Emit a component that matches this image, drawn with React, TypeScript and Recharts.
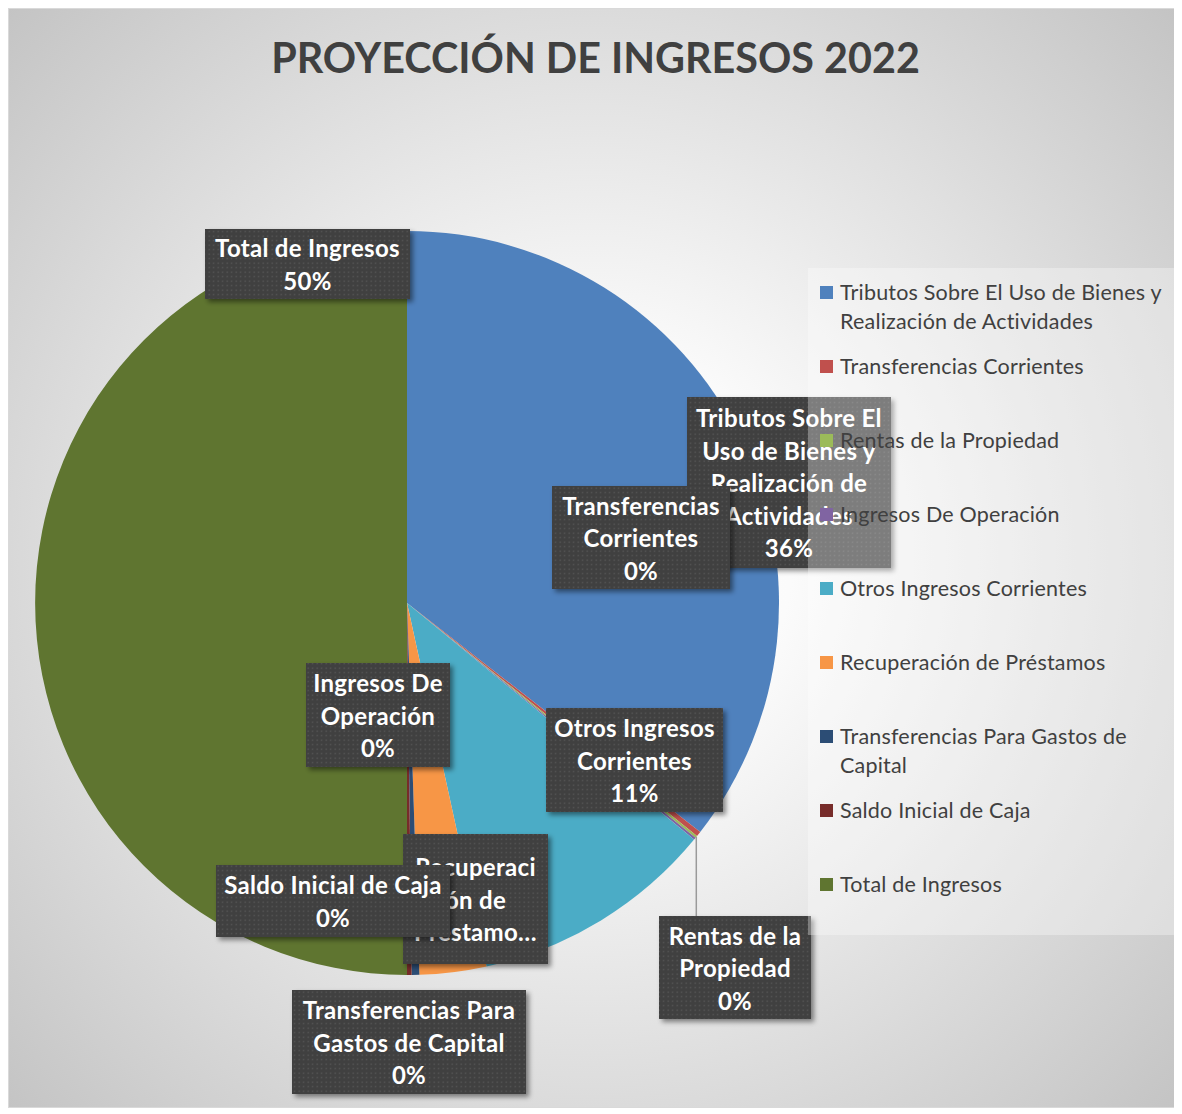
import { PieChart, Pie, Cell, Legend } from 'recharts';

const CATEGORIES = [
  'Tributos Sobre El Uso de Bienes y Realización de Actividades',
  'Transferencias Corrientes',
  'Rentas de la Propiedad',
  'Ingresos De Operación',
  'Otros Ingresos Corrientes',
  'Recuperación de Préstamos',
  'Transferencias Para Gastos de Capital',
  'Saldo Inicial de Caja',
  'Total de Ingresos',
];

// share of the whole pie, in percent
const VALUES = [35.55, 0.22, 0.1, 0.1, 10.6, 2.9, 0.33, 0.2, 50];

const COLORS = ['#4F81BD', '#C0504D', '#9BBB59', '#8064A2', '#4BACC6', '#F79646', '#2C4D75', '#772C2A', '#5F7530'];

// category names as they wrap inside the data label boxes
const LABEL_LINES = [
  ['Tributos Sobre El', 'Uso de Bienes y', 'Realización de', 'Actividades'],
  ['Transferencias', 'Corrientes'],
  ['Rentas de la', 'Propiedad'],
  ['Ingresos De', 'Operación'],
  ['Otros Ingresos', 'Corrientes'],
  ['Recuperaci', 'ón de', 'Préstamo…'],
  ['Transferencias Para', 'Gastos de Capital'],
  ['Saldo Inicial de Caja'],
  ['Total de Ingresos'],
];
const SHOW_PERCENT = [true, true, true, true, true, false, true, true, true];

// where each data label box sits (chart coordinates)
const LABEL_BOXES = [
  { x: 678, y: 388, w: 204, h: 171 },
  { x: 543, y: 477, w: 178, h: 103 },
  { x: 650, y: 907, w: 152, h: 103 },
  { x: 297, y: 654, w: 144, h: 104 },
  { x: 537, y: 699, w: 177, h: 104 },
  { x: 394, y: 825, w: 145, h: 130 },
  { x: 283, y: 981, w: 234, h: 104 },
  { x: 207, y: 856, w: 234, h: 72 },
  { x: 196, y: 220, w: 205, h: 70 },
];

const data = CATEGORIES.map((name, i) => ({ name, value: VALUES[i] }));

const FONT = 'Lato, "Open Sans", sans-serif';

const renderLabel = (props: any) => {
  const { index, percent, cx, cy, midAngle, outerRadius } = props;
  const b = LABEL_BOXES[index];
  const lines = [...LABEL_LINES[index]];
  if (SHOW_PERCENT[index]) lines.push(`${Math.round(percent * 100)}%`);
  const lh = 32.5;
  const start = b.y + b.h / 2 - ((lines.length - 1) * lh) / 2;
  let leader = null;
  if (index === 2) {
    const rad = (-midAngle * Math.PI) / 180;
    const px = cx + outerRadius * Math.cos(rad);
    const py = cy + outerRadius * Math.sin(rad);
    leader = <line x1={px} y1={py} x2={px} y2={b.y} stroke="#9a9a9a" strokeWidth={1.5} />;
  }
  return (
    <g key={`lbl-${index}`}>
      {leader}
      <rect x={b.x} y={b.y} width={b.w} height={b.h} fill="#404040" filter="url(#lblShadow)" />
      <rect x={b.x} y={b.y} width={b.w} height={b.h} fill="url(#lblDots)" />
      <text
        textAnchor="middle"
        fill="#ffffff"
        fontFamily={FONT}
        fontWeight={700}
        fontSize={24}
        letterSpacing={0.3}
      >
        {lines.map((l, i) => (
          <tspan key={i} x={b.x + b.w / 2} y={start + i * lh} dominantBaseline="central">
            {l}
          </tspan>
        ))}
      </text>
    </g>
  );
};

const renderLegend = () => (
  <div
    style={{
      paddingTop: 9.5,
      fontFamily: FONT,
      fontSize: 21.5,
      letterSpacing: 0.2,
      color: '#404040',
      lineHeight: '29px',
    }}
  >
    {CATEGORIES.map((name, i) => (
      <div key={name} style={{ position: 'relative', height: 74, paddingLeft: 32, paddingRight: 2 }}>
        <span
          style={{
            position: 'absolute',
            left: 12,
            top: 8,
            width: 13,
            height: 13,
            background: COLORS[i],
          }}
        />
        {name}
      </div>
    ))}
  </div>
);

const App = () => {
  return (
    <div
      style={{
        position: 'relative',
        width: 1166,
        height: 1098,
        border: '1px solid #d9d9d9',
        background: 'radial-gradient(circle at 50% 50%, #ffffff 0%, #fbfbfb 25%, #c4c4c4 100%)',
        fontFamily: FONT,
        overflow: 'hidden',
      }}
    >
      <svg width={0} height={0} style={{ position: 'absolute' }}>
        <defs>
          <pattern id="lblDots" width="4.5" height="4.5" patternUnits="userSpaceOnUse">
            <rect x="1.5" y="1.5" width="1.3" height="1.3" fill="#5a5a5a" />
          </pattern>
          <filter id="lblShadow" x="-10%" y="-10%" width="130%" height="140%">
            <feDropShadow dx="3" dy="3" stdDeviation="2.5" floodColor="#000" floodOpacity="0.45" />
          </filter>
        </defs>
      </svg>
      <div
        style={{
          position: 'absolute',
          left: 0,
          top: 23,
          width: 1173,
          textAlign: 'center',
          fontSize: 41.3,
          fontWeight: 700,
          color: '#404040',
          zIndex: 2,
        }}
      >
        PROYECCIÓN DE INGRESOS 2022
      </div>
      <PieChart width={1166} height={1098} margin={{ top: 0, right: 0, bottom: 0, left: 0 }}>
        <Pie
          data={data}
          dataKey="value"
          nameKey="name"
          cx={398}
          cy={594}
          outerRadius={372}
          startAngle={90}
          endAngle={-270}
          stroke="none"
          labelLine={false}
          label={renderLabel}
          isAnimationActive={false}
        >
          {data.map((d, i) => (
            <Cell key={d.name} fill={COLORS[i]} />
          ))}
        </Pie>
        <Legend
          layout="vertical"
          align="right"
          verticalAlign="middle"
          content={renderLegend}
          wrapperStyle={{
            left: 799,
            top: 259,
            right: 'auto',
            bottom: 'auto',
            width: 367,
            height: 667,
            background: 'rgba(255,255,255,0.32)',
          }}
        />
      </PieChart>
    </div>
  );
};

export default App;
